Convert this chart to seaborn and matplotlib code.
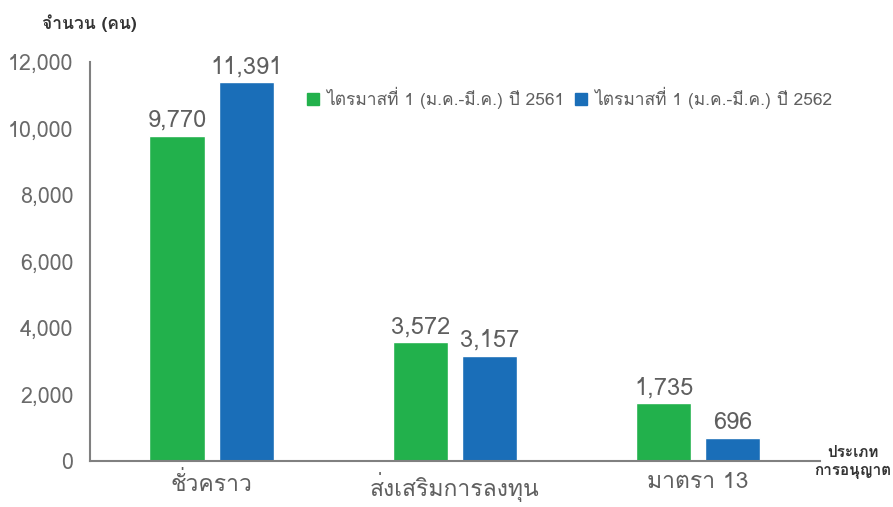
import matplotlib
matplotlib.use("Agg")
import matplotlib.pyplot as plt
import pandas as pd
import seaborn as sns
from matplotlib import font_manager, ft2font

categories = ["ชั่วคราว", "ส่งเสริมการลงทุน", "มาตรา 13"]
series_names = ["ไตรมาสที่ 1 (ม.ค.-มี.ค.) ปี 2561", "ไตรมาสที่ 1 (ม.ค.-มี.ค.) ปี 2562"]
values_2561 = [9770, 3572, 1735]
values_2562 = [11391, 3157, 696]
yticks = [0, 2000, 4000, 6000, 8000, 10000, 12000]

GREEN = "#22b14c"
BLUE = "#1a6eb8"
GREY = "#5f5f5f"


def thai_font():
    # pick the first installed family that actually has Thai glyphs
    for f in font_manager.fontManager.ttflist:
        try:
            if ft2font.FT2Font(f.fname).get_char_index(0x0E01):
                return f.name
        except Exception:
            pass
    return "DejaVu Sans"


sns.set_style("white")
plt.rcParams["font.family"] = [thai_font(), "DejaVu Sans"]

df = pd.DataFrame({
    "cat": categories * 2,
    "series": [series_names[0]] * 3 + [series_names[1]] * 3,
    "value": values_2561 + values_2562,
})

fig = plt.figure(figsize=(8.93, 5.07), dpi=100)
ax = fig.add_axes([0.1008, 0.0907, 0.8172, 0.787])

sns.barplot(data=df, x="cat", y="value", hue="series", palette=[GREEN, BLUE],
            saturation=1, width=0.568, gap=0.2, ax=ax, legend=False)

for cont in ax.containers:
    ax.bar_label(cont, labels=[f"{v:,.0f}" for v in cont.datavalues],
                 padding=3, fontsize=17, color=GREY)

ax.set_xlim(-0.5, 2.5)
ax.set_ylim(0, 12000)
ax.set_yticks(yticks)
ax.set_yticklabels([f"{t:,}" for t in yticks], fontsize=15.5, color="#6a6a6a")
ax.set_xticks(range(len(categories)))
ax.set_xticklabels(categories, fontsize=16.5, color=GREY)
ax.tick_params(axis="y", length=0, pad=12)
ax.tick_params(axis="x", length=0, pad=8)
ax.set_xlabel("")
ax.set_ylabel("")

for side in ["top", "right"]:
    ax.spines[side].set_visible(False)
for side in ["left", "bottom"]:
    ax.spines[side].set_color("#808080")
    ax.spines[side].set_linewidth(1.5)

handles = [plt.Line2D([], [], marker="s", linestyle="", markersize=9, color=c)
           for c in [GREEN, BLUE]]
fig.legend(handles, series_names, loc="center left", bbox_to_anchor=(0.342, 0.806),
           ncol=2, frameon=False, fontsize=12.5, handlelength=0.9, handletextpad=0.3,
           columnspacing=0.5, labelcolor=GREY, borderaxespad=0, borderpad=0)

fig.text(0.047, 0.955, "จำนวน (คน)", fontsize=12.5, fontweight="bold", color="#333333",
         va="center")
fig.text(0.955, 0.088, "ประเภท\nการอนุญาต", fontsize=11, fontweight="bold",
         color="#333333", ha="center", va="center", linespacing=1.3)

fig.savefig("out.png", dpi=100)
